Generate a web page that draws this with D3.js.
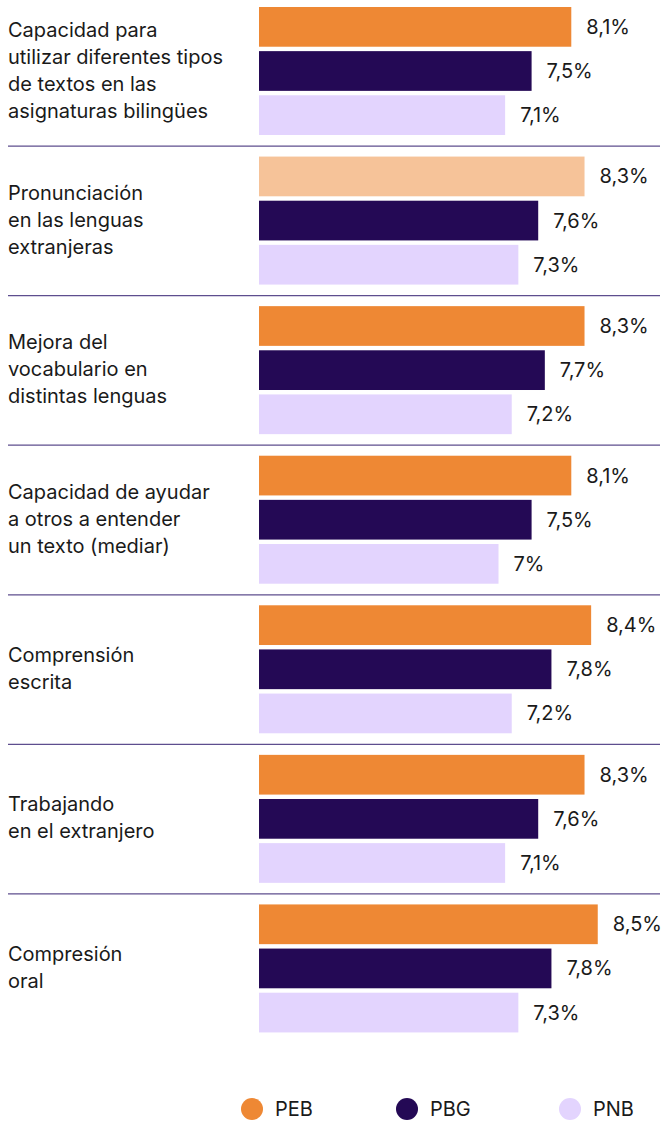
<!DOCTYPE html>
<html>
<head>
<meta charset="utf-8">
<script src="https://cdn.jsdelivr.net/npm/d3@7"></script>
<style>
  body { margin: 0; background: #fff; }
  svg { display: block; font-family: Inter, "Noto Sans", sans-serif; }
</style>
</head>
<body>
<svg id="chart"></svg>
<script>
// categories (label lines) and the three series
const categories = [
    ["Capacidad para", "utilizar diferentes tipos", "de textos en las", "asignaturas bilingües"],
    ["Pronunciación", "en las lenguas", "extranjeras"],
    ["Mejora del", "vocabulario en", "distintas lenguas"],
    ["Capacidad de ayudar", "a otros a entender", "un texto (mediar)"],
    ["Comprensión", "escrita"],
    ["Trabajando", "en el extranjero"],
    ["Compresión", "oral"]
];
const seriesNames = ["PEB", "PBG", "PNB"];
const pebValues = [8.1, 8.3, 8.3, 8.1, 8.4, 8.3, 8.5];
const pbgValues = [7.5, 7.6, 7.7, 7.5, 7.8, 7.6, 7.8];
const pnbValues = [7.1, 7.3, 7.2, 7.0, 7.2, 7.1, 7.3];
const seriesColors = ["#ee8834", "#240955", "#e3d4fe"];
const highlighted = { group: 1, series: 0 }; // faded bar in the reference

const width = 663, height = 1121;
const svg = d3.select("#chart").attr("width", width).attr("height", height);

const values = [pebValues, pbgValues, pnbValues];
const groupIds = categories.map((d, i) => i);

const y = d3.scaleBand().domain(groupIds).range([-4, 1043]).padding(0);
const ySub = d3.scaleBand().domain(seriesNames).range([11, 139]).paddingInner(0.1);
const x = d3.scaleLinear().domain([3.38, 10]).range([259, 697]);

const fmt = v => (Number.isInteger(v) ? v.toString() : v.toFixed(1).replace(".", ",")) + "%";

// separators between groups
svg.selectAll("line.sep")
    .data(groupIds.slice(1))
    .enter()
    .append("line")
    .attr("class", "sep")
    .attr("x1", 8)
    .attr("x2", 660)
    .attr("y1", d => y(d) + 0.5)
    .attr("y2", d => y(d) + 0.5)
    .attr("stroke", "#5e4e8e")
    .attr("stroke-width", 1.2);

const group = svg.selectAll("g.group")
    .data(groupIds)
    .enter()
    .append("g")
    .attr("class", "group")
    .attr("transform", d => `translate(0, ${y(d)})`);

// category labels, vertically centred on the bars
group.each(function (gi) {
    const lines = categories[gi];
    const lh = 27;
    const mid = (ySub.range()[0] + ySub.range()[1]) / 2 - 1;
    const t = d3.select(this).append("text")
        .attr("x", 8)
        .attr("font-size", "20px")
        .attr("fill", "#1a1a1a");
    lines.forEach((l, k) => {
        t.append("tspan")
            .attr("x", 8)
            .attr("y", mid + (k - (lines.length - 1) / 2) * lh)
            .attr("dy", "0.35em")
            .text(l);
    });
});

// bars + values
group.each(function (gi) {
    const g = d3.select(this);
    seriesNames.forEach((s, si) => {
        const v = values[si][gi];
        const isHi = gi === highlighted.group && si === highlighted.series;
        g.append("rect")
            .attr("x", x.range()[0])
            .attr("y", ySub(s))
            .attr("width", x(v) - x.range()[0])
            .attr("height", ySub.bandwidth())
            .attr("fill", seriesColors[si])
            .attr("fill-opacity", isHi ? 0.5 : 1);
        g.append("text")
            .attr("x", x(v) + 15)
            .attr("y", ySub(s) + ySub.bandwidth() / 2)
            .attr("dy", "0.35em")
            .attr("font-size", "20px")
            .attr("fill", "#1a1a1a")
            .text(fmt(v));
    });
});

// legend
const legendX = [252, 407, 570];
const legend = svg.selectAll("g.legend")
    .data(seriesNames)
    .enter()
    .append("g")
    .attr("class", "legend")
    .attr("transform", (d, i) => `translate(${legendX[i]}, 1109)`);

legend.append("circle")
    .attr("r", 11)
    .attr("fill", (d, i) => seriesColors[i]);

legend.append("text")
    .attr("x", 23)
    .attr("dy", "0.35em")
    .attr("font-size", "20px")
    .attr("fill", "#1a1a1a")
    .text(d => d);
</script>
</body>
</html>
